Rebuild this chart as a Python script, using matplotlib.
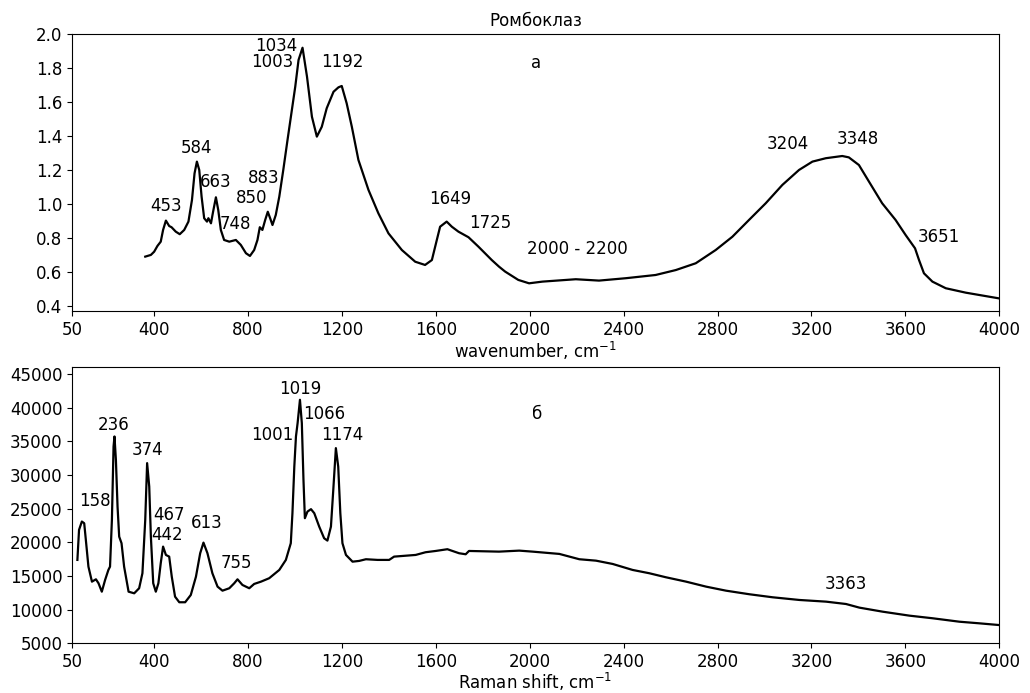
import matplotlib
matplotlib.use("Agg")
import matplotlib.pyplot as plt

# ---------------- IR spectrum (top) ----------------
ir_x = [362, 386, 400, 414, 428, 438, 450, 464, 474, 492, 509, 528, 546, 561, 572, 582,
        592, 602, 613, 625, 631, 642, 651, 663, 673, 684, 698, 720, 748, 769, 791, 808,
        826, 840, 850, 861, 873, 884, 894, 904, 918, 933, 950, 968, 1001, 1015, 1032,
        1051, 1072, 1093, 1114, 1135, 1164, 1185, 1199, 1220, 1242, 1270, 1313, 1355,
        1398, 1455, 1512, 1554, 1583, 1604, 1618, 1646, 1668, 1696, 1739, 1781, 1838,
        1869, 1895, 1951, 1997, 2054, 2196, 2295, 2409, 2536, 2622, 2707, 2792, 2863,
        2934, 3005, 3076, 3147, 3204, 3261, 3331, 3359, 3402, 3445, 3501, 3558, 3601,
        3641, 3658, 3679, 3715, 3772, 3857, 3996]
ir_y = [0.692, 0.702, 0.721, 0.755, 0.780, 0.849, 0.904, 0.872, 0.865, 0.839, 0.824, 0.849,
        0.898, 1.025, 1.182, 1.251, 1.202, 1.045, 0.918, 0.898, 0.918, 0.888, 0.956, 1.041,
        0.966, 0.849, 0.790, 0.780, 0.790, 0.761, 0.712, 0.696, 0.731, 0.790, 0.865, 0.849,
        0.908, 0.956, 0.918, 0.878, 0.937, 1.045, 1.202, 1.378, 1.692, 1.849, 1.921,
        1.751, 1.515, 1.398, 1.456, 1.565, 1.662, 1.688, 1.696, 1.594, 1.456, 1.261, 1.084,
        0.947, 0.829, 0.731, 0.662, 0.643, 0.672, 0.790, 0.868, 0.898, 0.868, 0.839, 0.806,
        0.751, 0.672, 0.633, 0.604, 0.555, 0.535, 0.545, 0.559, 0.551, 0.565, 0.584, 0.613,
        0.653, 0.731, 0.809, 0.908, 1.006, 1.114, 1.202, 1.251, 1.271, 1.284, 1.276, 1.231,
        1.133, 1.006, 0.908, 0.819, 0.741, 0.672, 0.594, 0.545, 0.506, 0.480, 0.447]

ir_labels = ["1034", "1003", "1192", "584", "663", "883", "850", "453", "748",
             "1649", "1725", "2000 - 2200", "3204", "3348", "3651"]
ir_lab_x = [922, 904, 1202, 579, 661, 867, 815, 450, 747, 1660, 1831, 2204, 3098, 3399, 3744]
ir_lab_y = [1.934, 1.836, 1.835, 1.332, 1.130, 1.156, 1.037, 0.988, 0.886,
            1.032, 0.888, 0.736, 1.352, 1.385, 0.809]

# ---------------- Raman spectrum (bottom) ----------------
ram_x = [73, 80, 92, 102, 109, 120, 135, 152, 163, 177, 191, 205, 212, 220, 227, 231, 237,
         244, 251, 261, 272, 291, 315, 336, 350, 362, 370, 379, 386, 396, 407, 418, 428,
         438, 450, 464, 475, 489, 507, 532, 556, 578, 596, 610, 627, 648, 670, 691, 720,
         741, 755, 776, 805, 826, 855, 890, 933, 961, 982, 989, 997, 1004, 1011, 1021,
         1029, 1036, 1042, 1053, 1068, 1082, 1103, 1124, 1138, 1153, 1163, 1174, 1184,
         1193, 1202, 1217, 1245, 1273, 1302, 1352, 1401, 1422, 1514, 1556, 1599, 1649,
         1699, 1727, 1741, 1869, 1955, 2012, 2126, 2211, 2282, 2353, 2438, 2509, 2580,
         2666, 2751, 2836, 2935, 3034, 3148, 3262, 3347, 3404, 3503, 3617, 3716, 3830,
         3915, 3997]
ram_y = [17390, 21850, 23090, 22840, 20360, 16390, 14160, 14510, 13920, 12670, 14410, 15900,
         16390, 23340, 34240, 35730, 32260, 25310, 20850, 19870, 16390, 12670, 12430, 13180,
         15410, 23340, 31770, 28290, 20850, 13920, 12670, 13920, 16900, 19370, 18130, 17880,
         14900, 11930, 11100, 11100, 12180, 14900, 18380, 19960, 18380, 15410, 13420, 12820,
         13180, 13920, 14510, 13670, 13180, 13820, 14160, 14670, 15900, 17390, 19870, 24330,
         31260, 35730, 37720, 41180, 37720, 29280, 23590, 24570, 24930, 24330, 22340, 20610,
         20260, 22340, 27800, 34000, 31260, 24330, 19870, 18130, 17130, 17240, 17490, 17390,
         17390, 17880, 18130, 18530, 18720, 18980, 18380, 18230, 18720, 18620, 18770, 18620,
         18280, 17490, 17280, 16790, 15900, 15410, 14810, 14160, 13420, 12820, 12290, 11840,
         11440, 11190, 10840, 10300, 9700, 9110, 8720, 8210, 7970, 7720]

ram_labels = ["158", "236", "374", "467", "442", "613", "755", "1019", "1066",
              "1001", "1174", "3363"]
ram_lab_x = [146, 227, 370, 463, 453, 626, 751, 1023, 1124, 902, 1203, 3345]
ram_lab_y = [26115, 37390, 33700, 24000, 21030, 22890, 16940, 42740, 39130,
             35970, 35970, 13820]

x_ticks = [50, 400, 800, 1200, 1600, 2000, 2400, 2800, 3200, 3600, 4000]
ir_yticks = [0.4, 0.6, 0.8, 1.0, 1.2, 1.4, 1.6, 1.8, 2.0]
ram_yticks = [5000, 10000, 15000, 20000, 25000, 30000, 35000, 40000, 45000]

FS = 12
fig = plt.figure(figsize=(10.30, 6.93), dpi=100)
ax1 = fig.add_axes([0.0699, 0.5512, 0.9003, 0.3993])
ax2 = fig.add_axes([0.0699, 0.0717, 0.9003, 0.3992])

# top
ax1.plot(ir_x, ir_y, color="black", lw=1.6)
ax1.set_xlim(50, 4000)
ax1.set_ylim(0.372, 2.0)
ax1.set_xticks(x_ticks)
ax1.set_yticks(ir_yticks)
ax1.set_yticklabels([f"{v:.1f}" for v in ir_yticks])
ax1.tick_params(labelsize=FS)
ax1.set_xlabel("wavenumber, cm$^{-1}$", fontsize=FS, labelpad=1)
ax1.set_title("Ромбоклаз", fontsize=FS)
for t, x, y in zip(ir_labels, ir_lab_x, ir_lab_y):
    ax1.text(x, y, t, fontsize=FS, ha="center", va="center")
ax1.text(2026, 1.829, "а", fontsize=FS, ha="center", va="center")

# bottom
ax2.plot(ram_x, ram_y, color="black", lw=1.6)
ax2.set_xlim(50, 4000)
ax2.set_ylim(5000, 46100)
ax2.set_xticks(x_ticks)
ax2.set_yticks(ram_yticks)
ax2.tick_params(labelsize=FS)
ax2.set_xlabel("Raman shift, cm$^{-1}$", fontsize=FS, labelpad=0)
for t, x, y in zip(ram_labels, ram_lab_x, ram_lab_y):
    ax2.text(x, y, t, fontsize=FS, ha="center", va="center")
ax2.text(2033, 39140, "б", fontsize=FS, ha="center", va="center")

fig.savefig("out.png", dpi=100)
